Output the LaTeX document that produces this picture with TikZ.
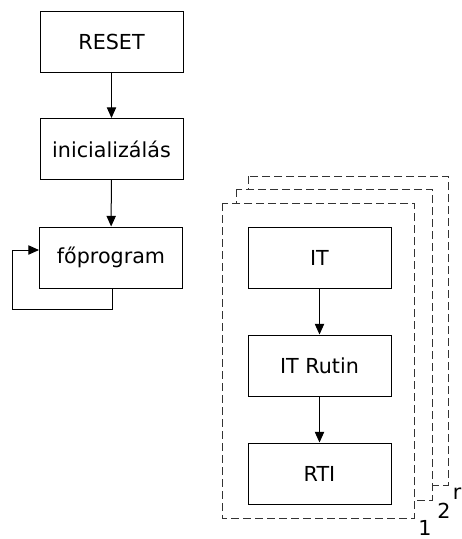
\documentclass[tikz,border=0pt]{standalone}
\usepackage{fontspec}
\setmainfont{DejaVu Sans}
\usetikzlibrary{arrows.meta}
\begin{document}
\begin{tikzpicture}[x=0.75pt,y=-0.75pt,
  box/.style={draw, line width=0.75pt, minimum width=107.25pt, minimum height=45.75pt, inner sep=0pt, font=\fontsize{15.5}{18}\selectfont},
  arr/.style={line width=0.75pt, -{Triangle[length=8pt,width=7pt]}},
  dbox/.style={draw=black!80, line width=0.75pt, dash pattern=on 6pt off 3pt, fill=white},
  lab/.style={font=\fontsize{15.5}{18}\selectfont, inner sep=0pt}]
\useasboundingbox (0,0) rectangle (461,539);
% left chain
\node[box] (reset) at (111.5,41.5) {RESET};
\node[box] (init) at (111.5,149) {inicializálás};
\node[box] (main) at (111,257.5) {főprogram};
\draw[arr] (reset) -- (init);
\draw[arr] (init) -- (main);
\coordinate (l1) at (112,309);
\coordinate (l2) at (12,309);
\coordinate (l3) at (12,250);
\draw[arr] (main.south -| l1) -- (l1) -- (l2) -- (l3) -- (l3 -| main.west);
% stacked dashed frames
\draw[dbox] (248,176) rectangle (448,485);
\draw[dbox] (236,189) rectangle (432,500);
\draw[dbox] (222,203) rectangle (414,518);
\node[box] (it) at (319.5,257.5) {IT};
\node[box] (rutin) at (319.5,365.5) {IT Rutin};
\node[box] (rti) at (319.5,473.5) {RTI};
\draw[arr] (it) -- (rutin);
\draw[arr] (rutin) -- (rti);
\node[lab] (n1) at (425,528) {1};
\node[lab] (n2) at (444,511) {2};
\node[lab] (nr) at (457,494) {r};
\end{tikzpicture}
\end{document}
